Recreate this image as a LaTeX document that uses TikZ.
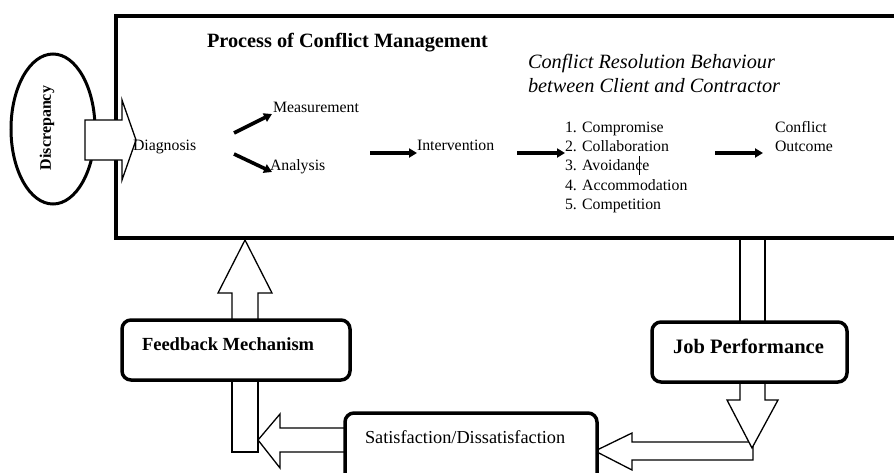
\documentclass[tikz,border=0pt]{standalone}
\usepackage{fontspec}
\setmainfont{Liberation Serif}
\usetikzlibrary{arrows.meta,shapes.geometric}
\begin{document}
\begin{tikzpicture}[x=1pt,y=-1pt,
  every node/.style={inner sep=0pt, outer sep=0pt},
  lbl/.style={anchor=base west, font=\fontsize{15.8}{18}\selectfont},
  flow/.style={line width=3.6pt, -{Triangle[length=8pt,width=9pt]}},
  blockarrow/.style={draw=black, fill=white, line width=1.3pt, line join=miter},
  frame/.style={draw=black, line width=4pt},
  roundbox/.style={draw=black, line width=3.5pt, rounded corners=9pt, fill=white}]
\useasboundingbox (0,0) rectangle (894,472);
\clip (0,0) rectangle (894,472);
\fill[white] (0,0) rectangle (894,472);

% process frame
\draw[frame] (116,16) rectangle (910,238);

% discrepancy ellipse
\node[ellipse, draw=black, line width=3pt, minimum width=84pt, minimum height=150pt] (disc) at (53,129) {};
\node[rotate=90, font=\fontsize{16}{18}\selectfont\bfseries] (disclbl) at (47,128) {Discrepancy};

% block arrow from discrepancy into the process
\draw[blockarrow] (85,120) -- (122,120) -- (122,100) -- (136,140) -- (122,180) -- (122,160) -- (85,160) -- cycle;

% titles
\node[anchor=base west, font=\fontsize{20.3}{22}\selectfont\bfseries] (title) at (207,47) {Process of Conflict Management};
\node[anchor=base west, font=\fontsize{20.3}{24}\selectfont\itshape] (crb1) at (528,68) {Conflict Resolution Behaviour};
\node[anchor=base west, font=\fontsize{20.3}{24}\selectfont\itshape] (crb2) at (528,92) {between Client and Contractor};

% process steps
\node[lbl] (diag) at (133,150) {Diagnosis};
\node[lbl] (meas) at (273,112) {Measurement};
\node[lbl] (anal) at (270,170) {Analysis};
\node[lbl] (interv) at (417,150) {Intervention};
\node[lbl] (l1) at (565,132) {1. Compromise};
\node[lbl] (l2) at (565,151) {2. Collaboration};
\node[lbl] (l3) at (565,170) {3. Avoidance};
\node[lbl] (l4) at (565,190) {4. Accommodation};
\node[lbl] (l5) at (565,209) {5. Competition};
\node[lbl] (co1) at (775,132) {Conflict};
\node[lbl] (co2) at (775,151) {Outcome};
\draw[line width=0.6pt] (639,156) -- (639,175);

% flow arrows
\coordinate (dm0) at (234,133); \coordinate (dm1) at (272,114);
\coordinate (da0) at (234,154); \coordinate (da1) at (272,172);
\coordinate (ai0) at (370,153); \coordinate (ai1) at (417,153);
\coordinate (il0) at (517,153); \coordinate (il1) at (565,153);
\coordinate (lo0) at (715,153); \coordinate (lo1) at (763,153);
\draw[flow] (dm0) -- (dm1);
\draw[flow] (da0) -- (da1);
\draw[flow] (ai0) -- (ai1);
\draw[flow] (il0) -- (il1);
\draw[flow] (lo0) -- (lo1);

% feedback loop block arrows
\draw[blockarrow] (232,322) -- (232,293) -- (218,293) -- (245,240) -- (272,293) -- (258,293) -- (258,322);
\draw[blockarrow] (232,378) -- (232,452) -- (258,452) -- (258,378);
\draw[blockarrow] (347,428) -- (280,428) -- (280,414) -- (258,440) -- (280,468) -- (280,452) -- (347,452);
\draw[blockarrow] (740,240) -- (740,324) -- (765,324) -- (765,240);
\draw[blockarrow] (753,442) -- (632,442) -- (632,433) -- (595,451) -- (632,470) -- (632,460) -- (753,460) -- cycle;
\draw[blockarrow] (740,380) -- (740,400) -- (727,400) -- (752,448) -- (778,400) -- (765,400) -- (765,380);

% boxes
\node[roundbox, minimum width=228pt, minimum height=60pt] (fb) at (236,350) {};
\node[anchor=base west, font=\fontsize{18.5}{21}\selectfont\bfseries] (fbl) at (142,350) {Feedback Mechanism};
\node[roundbox, minimum width=195pt, minimum height=60pt] (job) at (749.5,352) {};
\node[anchor=base west, font=\fontsize{20.5}{22}\selectfont\bfseries] (jobl) at (673,353) {Job Performance};
\node[roundbox, minimum width=252pt, minimum height=80pt] (sat) at (471,453) {};
\node[anchor=base west, font=\fontsize{18.3}{21}\selectfont] (satl) at (365,443) {Satisfaction/Dissatisfaction};
\end{tikzpicture}
\end{document}
